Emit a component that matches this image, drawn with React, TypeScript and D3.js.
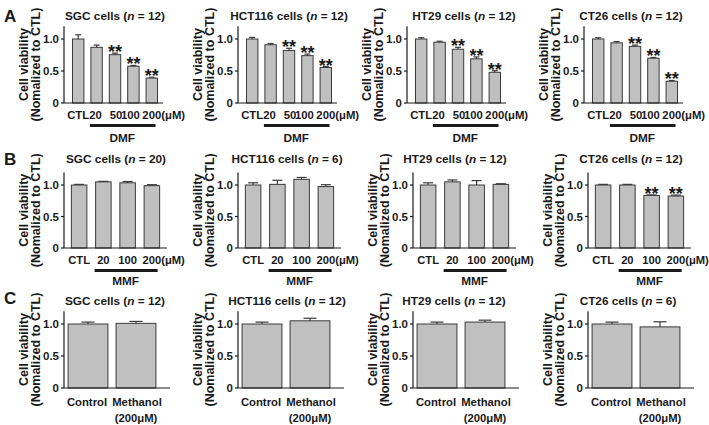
import React from "react";
import * as d3 from "d3";

// ---------- data ----------
const cellLines = ["SGC cells", "HCT116 cells", "HT29 cells", "CT26 cells"];

const catsA = ["CTL", "20", "50", "100", "200"];
const nA = [12, 12, 12, 12];
const meansA = [
  [1.0, 0.87, 0.755, 0.575, 0.39],
  [1.0, 0.91, 0.82, 0.74, 0.555],
  [1.0, 0.95, 0.84, 0.69, 0.48],
  [1.0, 0.94, 0.885, 0.7, 0.34],
];
const errA = [
  [0.065, 0.035, 0.025, 0.012, 0.012],
  [0.025, 0.02, 0.035, 0.025, 0.015],
  [0.02, 0.015, 0.03, 0.03, 0.025],
  [0.02, 0.02, 0.02, 0.012, 0.012],
];
const sigA = [
  [false, false, true, true, true],
  [false, false, true, true, true],
  [false, false, true, true, true],
  [false, false, true, true, true],
];

const catsB = ["CTL", "20", "100", "200"];
const nB = [20, 6, 12, 12];
const meansB = [
  [1.0, 1.05, 1.035, 0.99],
  [1.0, 1.01, 1.09, 0.975],
  [1.0, 1.05, 1.0, 1.01],
  [1.0, 1.0, 0.835, 0.825],
];
const errB = [
  [0.01, 0.008, 0.02, 0.015],
  [0.035, 0.065, 0.03, 0.03],
  [0.035, 0.03, 0.07, 0.01],
  [0.01, 0.01, 0.008, 0.015],
];
const sigB = [
  [false, false, false, false],
  [false, false, false, false],
  [false, false, false, false],
  [false, false, true, true],
];

const catsC = ["Control", "Methanol"];
const nC = [12, 12, 12, 6];
const meansC = [
  [1.0, 1.01],
  [1.0, 1.05],
  [1.0, 1.03],
  [1.0, 0.955],
];
const errC = [
  [0.03, 0.03],
  [0.03, 0.04],
  [0.03, 0.03],
  [0.03, 0.08],
];
const sigC = [
  [false, false],
  [false, false],
  [false, false],
  [false, false],
];

const yTicks = [0, 0.5, 1.0];
const yTickLabels = ["0", "0.5", "1.0"];
const yLabel1 = "Cell viability";
const yLabel2 = "(Nomalized to CTL)";
const unitLabel = "(μM)";
const subLabelC = "(200μM)";

// ---------- layout ----------
const FONT = "'Liberation Sans', Arial, Helvetica, sans-serif";
const INK = "#1a1a1a";
const BAR_FILL = "#c0c0c0";
const BAR_STROKE = "#3a3a3a";

type RowCfg = {
  letter: string;
  letterY: number;
  y0: number;
  unitPx: number;
  axisX: number[];
  titleX: number[];
  titleY: number;
  range: [number, number];
  padInner: number;
  axisEnd: number;
  cap: number;
  labelY: number;
  labelSize: number;
  labelDx: number[];
  label2Y?: number;
  group?: string;
  underlineY?: number;
  groupY?: number;
  cats: string[];
  n: number[];
  means: number[][];
  errs: number[][];
  sig: boolean[][];
};

const rows: RowCfg[] = [
  {
    letter: "A", letterY: 22, y0: 103, unitPx: 64,
    axisX: [64, 238, 407, 584], titleX: [115, 289, 464, 631], titleY: 20,
    range: [5, 97], padInner: 0.38, axisEnd: 99, cap: 6,
    labelY: 119, labelSize: 11.3, labelDx: [0, -1, 1, -3, 0],
    group: "DMF", underlineY: 124, groupY: 142,
    cats: catsA, n: nA, means: meansA, errs: errA, sig: sigA,
  },
  {
    letter: "B", letterY: 165, y0: 248, unitPx: 63,
    axisX: [64, 238, 413, 588], titleX: [116, 287, 455, 631], titleY: 163,
    range: [3, 100], padInner: 0.36, axisEnd: 103, cap: 10,
    labelY: 264, labelSize: 11.2, labelDx: [0, 0, 0, 0],
    group: "MMF", underlineY: 269, groupY: 285,
    cats: catsB, n: nB, means: meansB, errs: errB, sig: sigB,
  },
  {
    letter: "C", letterY: 304, y0: 388, unitPx: 64,
    axisX: [64, 238, 413, 588], titleX: [115, 287, 454, 628], titleY: 305,
    range: [0, 96], padInner: 0.17, axisEnd: 106, cap: 13,
    labelY: 406, labelSize: 11.3, labelDx: [-1, 1],
    label2Y: 422,
    cats: catsC, n: nC, means: meansC, errs: errC, sig: sigC,
  },
];

function Panel({ row, i }: { row: RowCfg; i: number }) {
  const ax = row.axisX[i];
  const y = d3
    .scaleLinear()
    .domain([0, 1.2])
    .range([row.y0, row.y0 - 1.2 * row.unitPx]);
  const x = d3
    .scaleBand<string>()
    .domain(row.cats)
    .range([ax + row.range[0], ax + row.range[1]])
    .paddingInner(row.padInner)
    .paddingOuter(row.padInner / 2);
  const bw = x.bandwidth();
  const cx = (c: string) => (x(c) as number) + bw / 2;
  const means = row.means[i];
  const errs = row.errs[i];
  const sig = row.sig[i];
  const last = row.cats[row.cats.length - 1];
  const first2 = row.cats[1];
  const midY = (y(0) + y(1.2)) / 2;

  return (
    <g>
      {/* title */}
      <text x={row.titleX[i]} y={row.titleY} textAnchor="middle" fontSize={11.8} fontWeight="bold" fill={INK}>
        {cellLines[i] + " ("}
        <tspan fontStyle="italic">n</tspan>
        {" = " + row.n[i] + ")"}
      </text>
      {/* y label */}
      <g transform={`translate(${ax - 36},${midY}) rotate(-90)`}>
        <text textAnchor="middle" fontSize={12.5} fontWeight="bold" fill={INK}>{yLabel1}</text>
      </g>
      <g transform={`translate(${ax - 24},${midY}) rotate(-90)`}>
        <text textAnchor="middle" fontSize={12.5} fontWeight="bold" fill={INK}>{yLabel2}</text>
      </g>
      {/* bars */}
      {row.cats.map((c, k) => (
        <g key={c}>
          <rect
            x={x(c)}
            y={y(means[k])}
            width={bw}
            height={y(0) - y(means[k])}
            fill={BAR_FILL}
            stroke={BAR_STROKE}
            strokeWidth={1}
          />
          <line x1={cx(c)} x2={cx(c)} y1={y(means[k])} y2={y(means[k] + errs[k])} stroke={BAR_STROKE} strokeWidth={1.2} />
          <line
            x1={cx(c) - row.cap / 2}
            x2={cx(c) + row.cap / 2}
            y1={y(means[k] + errs[k])}
            y2={y(means[k] + errs[k])}
            stroke={BAR_STROKE}
            strokeWidth={1.2}
          />
          {sig[k] && (
            <text x={cx(c)} y={y(means[k] + errs[k]) + 5} textAnchor="middle" fontSize={18} fontWeight="bold" fill={INK}>
              **
            </text>
          )}
        </g>
      ))}
      {/* axes */}
      <line x1={ax} x2={ax} y1={y(0)} y2={y(1.2)} stroke={INK} strokeWidth={1.2} />
      <line x1={ax} x2={ax + row.axisEnd} y1={y(0)} y2={y(0)} stroke={INK} strokeWidth={1.2} />
      {yTicks.map((t, k) => (
        <g key={t}>
          <line x1={ax - 3} x2={ax} y1={y(t)} y2={y(t)} stroke={INK} strokeWidth={1.2} />
          <text x={ax - 5} y={y(t) + 4} textAnchor="end" fontSize={11.5} fontWeight="bold" fill={INK}>
            {yTickLabels[k]}
          </text>
        </g>
      ))}
      {/* x labels */}
      {row.cats.map((c, k) => (
        <text
          key={c}
          x={cx(c) + row.labelDx[k]}
          y={row.labelY}
          textAnchor="middle"
          fontSize={row.labelSize}
          fontWeight="bold"
          fill={INK}
        >
          {c}
        </text>
      ))}
      {row.group && (
        <text x={cx(last) + row.labelSize * 0.834} y={row.labelY} fontSize={row.labelSize} fontWeight="bold" fill={INK}>
          {unitLabel}
        </text>
      )}
      {row.label2Y && (
        <text x={cx(last)} y={row.label2Y} textAnchor="middle" fontSize={row.labelSize} fontWeight="bold" fill={INK}>
          {subLabelC}
        </text>
      )}
      {row.group && (
        <g>
          <rect
            x={(x(first2) as number) - 1}
            y={row.underlineY}
            width={(x(last) as number) + bw - (x(first2) as number) - 1}
            height={3}
            fill={INK}
          />
          <text
            x={((x(first2) as number) + (x(last) as number) + bw) / 2 - 2}
            y={row.groupY}
            textAnchor="middle"
            fontSize={11.8}
            fontWeight="bold"
            fill={INK}
          >
            {row.group}
          </text>
        </g>
      )}
    </g>
  );
}

export default function App() {
  return (
    <svg
      width={709}
      height={425}
      style={{ position: "absolute", left: 0, top: 0, background: "#fff" }}
      fontFamily={FONT}
    >
      <rect width={709} height={425} fill="#fff" />
      {rows.map((row) => (
        <g key={row.letter}>
          <text x={4} y={row.letterY} fontSize={17} fontWeight="bold" fill={INK}>
            {row.letter}
          </text>
          {[0, 1, 2, 3].map((i) => (
            <Panel key={i} row={row} i={i} />
          ))}
        </g>
      ))}
    </svg>
  );
}
